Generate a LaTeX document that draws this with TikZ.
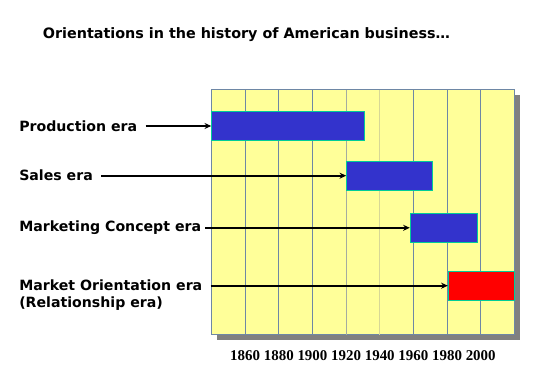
\documentclass[tikz,border=0pt]{standalone}
\usepackage{fontspec}
\setmainfont{DejaVu Sans}
\newfontfamily\yearfont{Liberation Serif}
\usetikzlibrary{fit}
\usetikzlibrary{positioning}
\usetikzlibrary{arrows.meta}
\definecolor{chartyellow}{RGB}{255,255,153}
\definecolor{gridblue}{RGB}{110,135,165}
\definecolor{gridgray}{RGB}{165,172,160}
\definecolor{gridpale}{RGB}{215,215,150}
\definecolor{barblue}{RGB}{51,51,204}
\definecolor{barred}{RGB}{255,0,0}
\definecolor{baredge}{RGB}{0,204,153}
\definecolor{shadowgray}{RGB}{128,128,128}

\begin{document}
\begin{tikzpicture}[x=0.75pt, y=-0.75pt,
    lbl/.style={font=\fontsize{10.6}{13}\selectfont\bfseries, inner sep=0pt, anchor=west},
    yr/.style={font=\yearfont\fontsize{11.2}{13}\selectfont\bfseries, inner sep=0pt},
    bar/.style={draw=baredge, line width=0.75pt, inner sep=0pt},
    arr/.style={-{Stealth[length=5pt,width=4.5pt]}, line width=1.4pt}]
    \useasboundingbox (0,0) rectangle (547,384);

    % title
    \node[lbl, font=\fontsize{10.75}{13}\selectfont\bfseries] (title) at (42.7,35) {Orientations in the history of American business…};

    % chart with shadow
    \fill[shadowgray] (216.5,95) rectangle (519.5,340);
    \draw[gridblue, line width=0.75pt, fill=chartyellow] (211.5,90) rectangle (514.3,335);
    \foreach \i/\c in {1/gridblue,2/gridblue,3/gridblue,4/gridgray,5/gridpale,6/gridblue,7/gridblue,8/gridblue}
      \draw[\c, line width=0.75pt] (211.5+33.65*\i,90) -- (211.5+33.65*\i,335);

    % years
    \foreach \yr [count=\i] in {1860,1880,...,2000}
      \node[yr] (y\yr) at (211.5+33.65*\i,356) {\yr};

    % bars
    \node[bar, fill=barblue, fit={(211.7,111.7) (364.7,140.3)}] (prod) {};
    \node[bar, fill=barblue, fit={(346.7,161.3) (432.3,190.1)}] (sales) {};
    \node[bar, fill=barblue, fit={(410.3,213.3) (477.3,242.3)}] (mkt) {};
    \node[bar, fill=barred, fit={(448.3,271.3) (514.3,300.1)}] (mo) {};

    % era labels
    \node[lbl] (lprod) at (19,126) {Production era};
    \node[lbl] (lsales) at (19,175.7) {Sales era};
    \node[lbl] (lmkt) at (19,227.8) {Marketing Concept era};
    \node[lbl] (lmo) at (19,285.7) {Market Orientation era};
    \node[lbl] (lmo2) at (19,304) {(Relationship era)};

    % arrows to bars
    \draw[arr, shorten <=6pt] (lprod.east) -- (prod.west);
    \draw[arr, shorten <=6pt] (lsales.east) -- (sales.west);
    \draw[arr, shorten <=3pt] (lmkt.east) -- (mkt.west);
    \draw[arr, shorten <=6pt] (lmo.east) -- (mo.west);
\end{tikzpicture}
\end{document}
